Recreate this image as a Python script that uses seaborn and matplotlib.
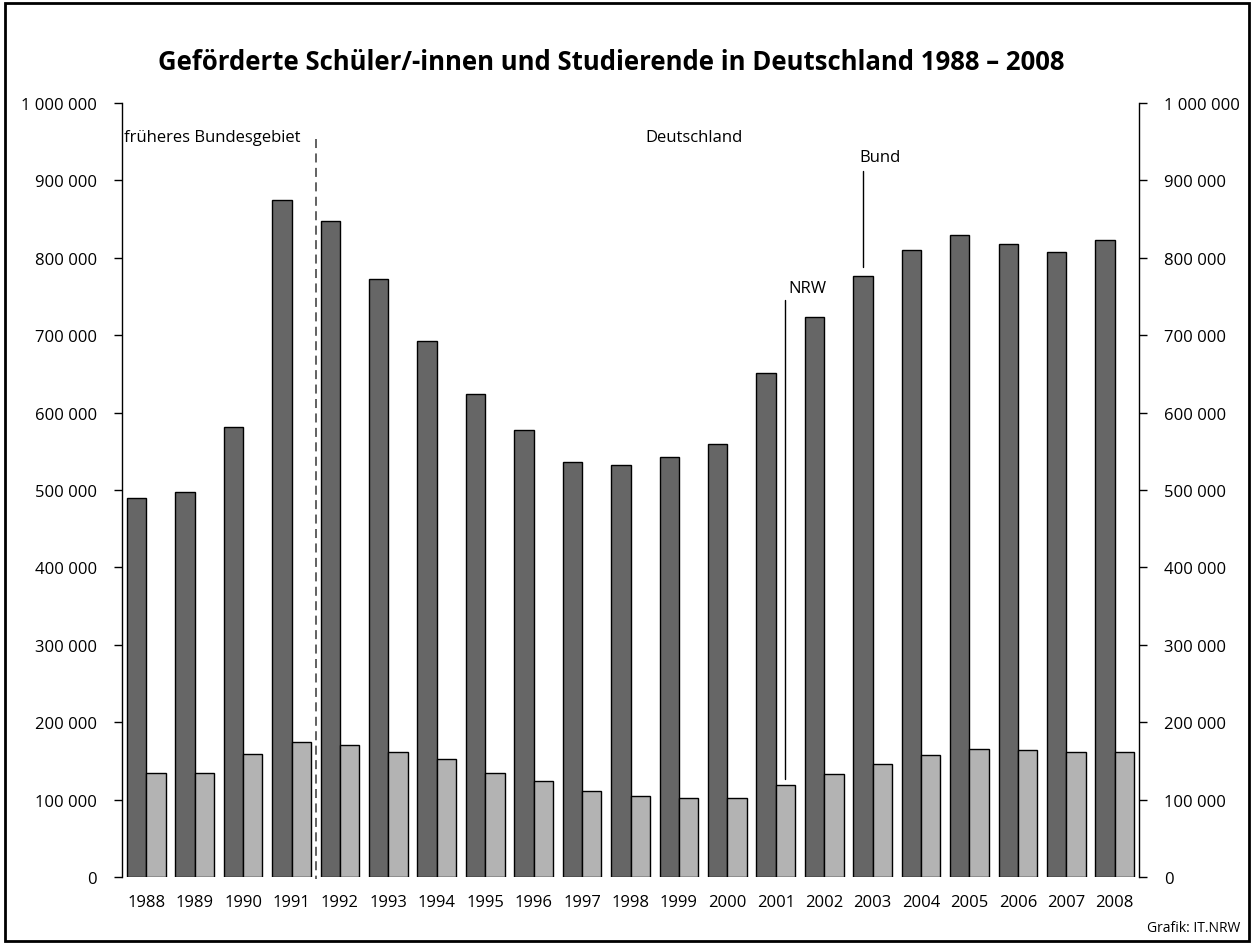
import pandas as pd
import matplotlib
matplotlib.use("Agg")
import matplotlib.pyplot as plt
import matplotlib.ticker as mticker
from matplotlib.patches import Rectangle
import seaborn as sns

years = [str(y) for y in range(1988, 2009)]
bund = [490000, 498000, 582000, 874000, 847000, 772000, 693000, 624000, 577000,
        536000, 532000, 542000, 560000, 651000, 723000, 777000, 810000, 829000,
        818000, 807000, 823000]
nrw = [135000, 135000, 159000, 175000, 171000, 161000, 152000, 134000, 124000,
       111000, 105000, 102000, 102000, 119000, 133000, 146000, 157000, 165000,
       164000, 161000, 162000]
y_ticks = [0, 100000, 200000, 300000, 400000, 500000, 600000, 700000, 800000,
           900000, 1000000]


def main():
    df = pd.DataFrame({
        "Jahr": years * 2,
        "Anzahl": bund + nrw,
        "Gruppe": ["Bund"] * len(years) + ["NRW"] * len(years),
    })

    sns.set_theme(style="white")
    plt.rcParams["font.family"] = ["Open Sans", "DejaVu Sans"]
    plt.rcParams["text.color"] = "black"
    plt.rcParams["xtick.color"] = "black"
    plt.rcParams["ytick.color"] = "black"

    fig = plt.figure(figsize=(12.53, 9.45), dpi=100)
    ax = fig.add_axes([0.0974, 0.0709, 0.8116, 0.8191])

    sns.barplot(data=df, x="Jahr", y="Anzahl", hue="Gruppe",
                palette=["#666666", "#b3b3b3"], edgecolor="black",
                linewidth=1.0, saturation=1, legend=False, ax=ax)

    ax.set_ylim(0, 1000000)
    ax.set_xlim(-0.5, len(years) - 0.5)
    ax.set_yticks(y_ticks)
    ax.yaxis.set_major_formatter(
        mticker.FuncFormatter(lambda v, p: f"{int(v):,}".replace(",", " ")))
    ax.set_xlabel("")
    ax.set_ylabel("")
    ax.spines["top"].set_visible(False)
    ax.spines["bottom"].set_visible(False)
    for s in ["left", "right"]:
        ax.spines[s].set_color("black")
        ax.spines[s].set_linewidth(1.0)
    ax.tick_params(axis="y", left=True, right=True, labelleft=True,
                   labelright=True, direction="out", length=6, width=1,
                   color="black", labelsize=12, pad=12, labelcolor="black")
    ax.tick_params(axis="x", bottom=False, labelsize=12, pad=6,
                   labelcolor="black")

    # trennlinie frueheres Bundesgebiet / Deutschland
    ax.plot([3.5, 3.5], [953000, -3000], ls=(0, (5, 3)), color="#555555",
            lw=1.3, clip_on=False)
    ax.text(-0.465, 956000, "früheres Bundesgebiet", fontsize=12,
            ha="left", va="center")
    ax.text(11.31, 956000, "Deutschland", fontsize=12, ha="center", va="center")

    # Bund / NRW labels
    ax.text(15.15, 930000, "Bund", fontsize=12, ha="center", va="center")
    ax.plot([14.8, 14.8], [912000, 788000], color="black", lw=1)
    ax.text(13.65, 761000, "NRW", fontsize=12, ha="center", va="center")
    ax.plot([13.2, 13.2], [745000, 126000], color="black", lw=1)

    fig.text(0.488, 0.934, "Geförderte Schüler/-innen und Studierende in Deutschland 1988 – 2008",
             fontsize=18.5, fontweight="bold", ha="center", va="center")
    fig.text(0.99, 0.017, "Grafik: IT.NRW", fontsize=10, ha="right", va="center")

    fig.patches.append(Rectangle((0.004, 0.003), 0.993, 0.993,
                                 transform=fig.transFigure, fill=False,
                                 edgecolor="black", lw=2))

    fig.savefig("out.png", dpi=100)


if __name__ == '__main__':
    main()
